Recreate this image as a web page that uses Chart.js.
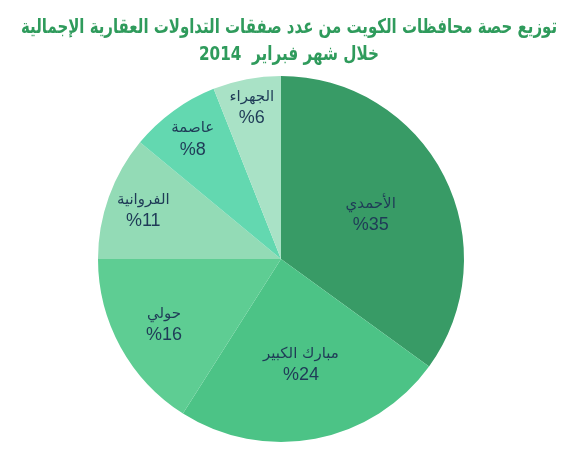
<!DOCTYPE html>
<html>
<head>
<meta charset="utf-8">
<script src="https://cdn.jsdelivr.net/npm/chart.js@4"></script>
<style>
  body { margin: 0; background: #fff; }
  #wrap { width: 577px; height: 450px; }
</style>
</head>
<body>
<div id="wrap"><canvas id="pie"></canvas></div>
<script>
// data
const governorates = ["الأحمدي", "مبارك الكبير", "حولي", "الفروانية", "عاصمة", "الجهراء"];
const shares = [35, 24, 16, 11, 8, 6];
const titleLines = ["توزيع حصة محافظات الكويت من عدد صفقات التداولات العقارية الإجمالية", "خلال شهر فبراير  2014"];
const sliceColors = ["#389b66", "#4cc386", "#5ecd93", "#93dbb6", "#63d8b0", "#a9e2c6"];
// how far out along the radius each label sits
const labelRadius = [0.55, 0.58, 0.73, 0.8, 0.82, 0.85];

const sliceLabels = {
    id: "sliceLabels",
    afterDatasetsDraw(chart) {
        const ctx = chart.ctx;
        const arcs = chart.getDatasetMeta(0).data;
        ctx.save();
        ctx.fillStyle = "#1f3b57";
        ctx.textAlign = "center";
        ctx.textBaseline = "middle";
        arcs.forEach((arc, i) => {
            const mid = (arc.startAngle + arc.endAngle) / 2;
            const r = arc.outerRadius * labelRadius[i];
            const x = arc.x + Math.cos(mid) * r;
            const y = arc.y + Math.sin(mid) * r;
            ctx.font = "15px 'DejaVu Sans', sans-serif";
            ctx.fillText(governorates[i], x, y - 9);
            ctx.font = "18px 'Liberation Sans', Arial, sans-serif";
            ctx.fillText("%" + shares[i], x, y + 12);
        });
        ctx.restore();
    }
};

// the title is squeezed to the width it has in the picture
const headline = {
    id: "headline",
    afterDraw(chart) {
        const ctx = chart.ctx;
        ctx.save();
        ctx.fillStyle = "#2f9b5c";
        ctx.textAlign = "center";
        ctx.textBaseline = "middle";
        ctx.font = "bold 20px 'DejaVu Sans', sans-serif";
        ctx.fillText(titleLines[0], 289, 28, 536);
        ctx.fillText(titleLines[1], 289, 55, 180);
        ctx.restore();
    }
};

const pie = new Chart(document.getElementById("pie"), {
    type: "pie",
    data: {
        labels: governorates,
        datasets: [
            {
                data: shares,
                backgroundColor: sliceColors,
                borderWidth: 0,
            },
        ],
    },
    options: {
        responsive: true,
        maintainAspectRatio: false,
        animation: false,
        layout: {
            padding: { left: 0, right: 15, top: 76, bottom: 8 }
        },
        plugins: {
            legend: { display: false },
            tooltip: { enabled: false },
            title: { display: false }
        }
    },
    plugins: [sliceLabels, headline]
});
</script>
</body>
</html>
